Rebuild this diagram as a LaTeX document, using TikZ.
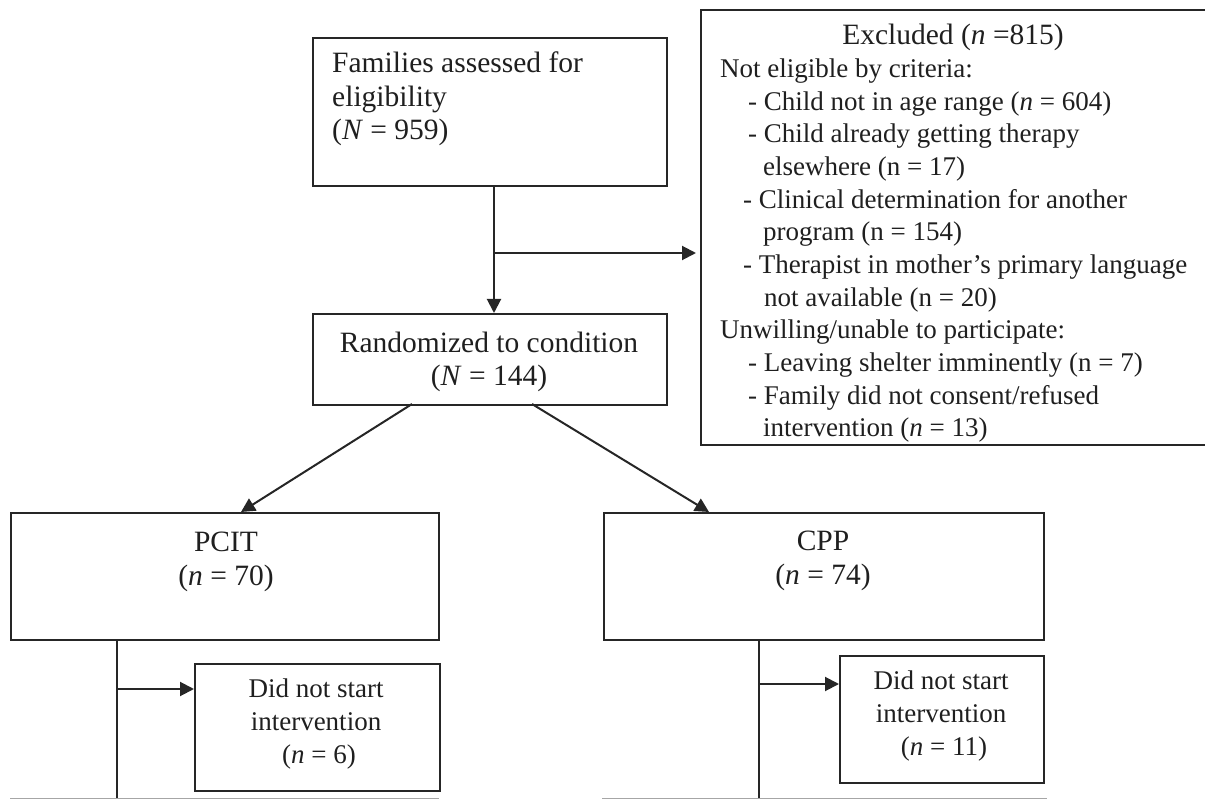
\documentclass[tikz,border=0pt]{standalone}
\usepackage{fontspec}
\setmainfont{Liberation Serif}
\usetikzlibrary{arrows.meta}
\definecolor{ln}{HTML}{262626}
\begin{document}
\begin{tikzpicture}[x=1pt,y=-1pt,
  box/.style={draw=ln, line width=2pt, inner sep=0pt, anchor=north west},
  cutbox/.style={draw=gray!70, line width=1pt, inner sep=0pt, anchor=north west},
  txt/.style={inner sep=0pt, font=\fontsize{27}{32.7}\selectfont, text=black!88},
  bigtxt/.style={inner sep=0pt, font=\fontsize{29.5}{33.5}\selectfont, text=black!88},
  conn/.style={draw=ln, line width=2pt},
  arr/.style={conn, -{Triangle[length=14pt,width=14pt]}}]
\useasboundingbox (0,0) rectangle (1205,799);
% boxes
\node[box, minimum width=354pt, minimum height=148pt] (fam) at (312,37) {};
\node[box, minimum width=530pt, minimum height=435pt] (excl) at (700,9) {};
\node[box, minimum width=354pt, minimum height=91pt] (rand) at (312,313) {};
\node[box, minimum width=428pt, minimum height=127pt] (pcit) at (10,512) {};
\node[box, minimum width=440pt, minimum height=127pt] (cpp) at (603,512) {};
\node[box, minimum width=245pt, minimum height=127pt] (dnsa) at (194,663) {};
\node[box, minimum width=204pt, minimum height=127pt] (dnsb) at (839,655) {};
\node[cutbox, minimum width=428pt, minimum height=60pt] (pnext) at (10,797.5) {};
\node[cutbox, minimum width=444pt, minimum height=60pt] (cnext) at (602,797.5) {};
% texts (anchor = baseline of last line)
\node[bigtxt, anchor=base west, align=left] (famtext) at (332,140)
  {Families assessed for\\eligibility\\(\textit{N} = 959)};
\node[bigtxt, anchor=base] (excltitle) at (953,45) {Excluded (\textit{n} =815)};
\node[txt, anchor=base west, align=left] (excltext) at (720,437)
  {Not eligible by criteria:\\
   \hspace*{28pt}- Child not in age range (\textit{n} = 604)\\
   \hspace*{28pt}- Child already getting therapy\\
   \hspace*{43pt}elsewhere (n = 17)\\
   \hspace*{23pt}- Clinical determination for another\\
   \hspace*{43pt}program (n = 154)\\
   \hspace*{23pt}- Therapist in mother’s primary language\\
   \hspace*{44pt}not available (n = 20)\\
   Unwilling/unable to participate:\\
   \hspace*{28pt}- Leaving shelter imminently (n = 7)\\
   \hspace*{28pt}- Family did not consent/refused\\
   \hspace*{43pt}intervention (\textit{n} = 13)};
\node[bigtxt, anchor=base, align=center] (randtext) at (489,386)
  {Randomized to condition\\(\textit{N} = 144)};
\node[bigtxt, anchor=base, align=center] (pcittext) at (226,585)
  {PCIT\\(\textit{n} = 70)};
\node[bigtxt, anchor=base, align=center] (cpptext) at (823,584)
  {CPP\\(\textit{n} = 74)};
\node[txt, anchor=base, align=center] (dnsatext) at (316,763)
  {Did not start\\intervention\\\hspace*{6pt}(\textit{n} = 6)};
\node[txt, anchor=base, align=center] (dnsbtext) at (941,755)
  {Did not start\\intervention\\\hspace*{6pt}(\textit{n} = 11)};
% connectors
\coordinate (fv) at (494,0);
\coordinate (br1) at (494,253);
\draw[arr] (fv |- fam.south) -- (fv |- rand.north);
\draw[arr, shorten >=4pt] (br1) -- (br1 -| excl.west);
\coordinate (r1) at (412,404);
\coordinate (p1) at (241,0);
\coordinate (r2) at (532,404);
\coordinate (c1) at (709,0);
\draw[arr] (r1) -- (p1 |- pcit.north);
\draw[arr] (r2) -- (c1 |- cpp.north);
\coordinate (pv) at (117,0);
\coordinate (cv) at (759,0);
\coordinate (br2) at (117,689);
\coordinate (br3) at (759,684);
\draw[conn] (pv |- pcit.south) -- (pv |- pnext.north);
\draw[conn] (cv |- cpp.south) -- (cv |- cnext.north);
\draw[arr] (br2) -- (br2 -| dnsa.west);
\draw[arr] (br3) -- (br3 -| dnsb.west);
\end{tikzpicture}
\end{document}
